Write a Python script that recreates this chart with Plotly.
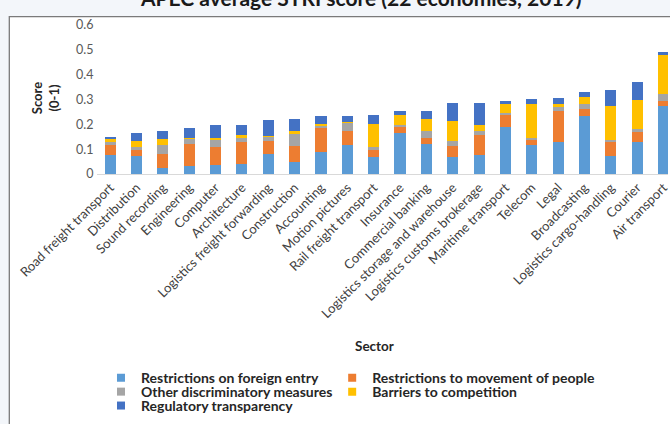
import plotly.graph_objects as go

# APEC average STRI score by sector, split into five policy areas
sectors = [
    "Road freight transport", "Distribution", "Sound recording", "Engineering",
    "Computer", "Architecture", "Logistics freight forwarding", "Construction",
    "Accounting", "Motion pictures", "Rail freight transport", "Insurance",
    "Commercial banking", "Logistics storage and warehouse",
    "Logistics customs brokerage", "Maritime transport", "Telecom", "Legal",
    "Broadcasting", "Logistics cargo-handling", "Courier", "Air transport",
]

foreign_entry = [0.078, 0.074, 0.025, 0.034, 0.038, 0.042, 0.082, 0.049, 0.087, 0.115, 0.069,
                 0.165, 0.119, 0.069, 0.077, 0.189, 0.115, 0.130, 0.234, 0.074, 0.127, 0.274]
movement_people = [0.039, 0.024, 0.057, 0.088, 0.069, 0.087, 0.052, 0.062, 0.098, 0.060, 0.026,
                   0.024, 0.026, 0.045, 0.081, 0.048, 0.020, 0.125, 0.028, 0.053, 0.042, 0.021]
other_discrim = [0.010, 0.011, 0.033, 0.019, 0.031, 0.019, 0.017, 0.051, 0.012, 0.031, 0.014,
                 0.009, 0.029, 0.017, 0.016, 0.010, 0.011, 0.015, 0.019, 0.011, 0.013, 0.027]
barriers_comp = [0.015, 0.022, 0.026, 0.005, 0.007, 0.008, 0.004, 0.012, 0.006, 0.004, 0.093,
                 0.039, 0.048, 0.082, 0.025, 0.034, 0.135, 0.011, 0.028, 0.137, 0.116, 0.156]
reg_transparency = [0.007, 0.034, 0.034, 0.039, 0.053, 0.043, 0.063, 0.047, 0.030, 0.023, 0.035,
                    0.016, 0.033, 0.072, 0.086, 0.014, 0.020, 0.024, 0.020, 0.063, 0.073, 0.013]

series_names = [
    "Restrictions on foreign entry",
    "Restrictions to movement of people",
    "Other discriminatory measures",
    "Barriers to competition",
    "Regulatory transparency",
]
series_values = [foreign_entry, movement_people, other_discrim, barriers_comp, reg_transparency]
series_colors = ["#5B9BD5", "#ED7D31", "#A5A5A5", "#FFC000", "#4472C4"]

y_ticks = [0, 0.1, 0.2, 0.3, 0.4, 0.5, 0.6]
y_tick_text = ["0", "0.1", "0.2", "0.3", "0.4", "0.5", "0.6"]

W, H = 670, 424
PL, PT, PH = 97, 24.5, 150          # plot-area left, top and height in pixels
PW = W - PL


def px_x(p):
    return (p - PL) / PW


def px_y(p):
    return (PT + PH - p) / PH


FONT = "Lato"

# legend slots: two columns, three rows (legend left x, row centre y), in pixels
legend_slots = [(101, 380), (333, 380), (101, 394), (333, 394), (101, 408)]
legend_ids = ["legend", "legend2", "legend3", "legend4", "legend5"]

fig = go.Figure()
for name, vals, col in zip(series_names, series_values, series_colors):
    fig.add_trace(go.Bar(
        x=sectors, y=vals, name=name, showlegend=False,
        marker=dict(color=col, line=dict(width=0)),
    ))

# small square legend keys, one legend box per entry
for name, col, lid in zip(series_names, series_colors, legend_ids):
    fig.add_trace(go.Scatter(
        x=[None], y=[None], mode="markers", name=name, legend=lid,
        marker=dict(symbol="square", size=8, color=col),
    ))

legend_style = dict(
    xanchor="left", yanchor="middle", bgcolor="rgba(0,0,0,0)", borderwidth=0,
    font=dict(family=FONT, size=14, color="#262626", weight="bold"),
)
legend_layout = {
    lid: dict(x=px_x(lx), y=px_y(ly), **legend_style)
    for lid, (lx, ly) in zip(legend_ids, legend_slots)
}

fig.update_layout(
    width=W, height=H,
    barmode="stack", bargap=0.58,
    paper_bgcolor="#f3f6fa", plot_bgcolor="white",
    margin=dict(l=PL, r=0, t=PT, b=H - PT - PH, pad=0),
    font=dict(family=FONT, color="#404040"),
    showlegend=True,
    xaxis=dict(
        range=[-0.5, 21.17], tickangle=-45, showline=True, linecolor="#d9d9d9",
        linewidth=1, ticks="", showgrid=False, zeroline=False,
        tickfont=dict(family=FONT, size=13, color="#404040"),
    ),
    yaxis=dict(
        range=[0, 0.6], tickvals=y_ticks, ticktext=y_tick_text,
        showgrid=False, zeroline=False, showline=False,
        ticks="outside", ticklen=0, tickcolor="rgba(0,0,0,0)",
        tickfont=dict(family=FONT, size=12.5, color="#595959"),
    ),
    shapes=[dict(
        type="rect", xref="paper", yref="paper", layer="below",
        x0=px_x(9), x1=px_x(W + 5), y0=px_y(H + 5), y1=px_y(16),
        fillcolor="white", line=dict(color="#7a7a7a", width=1.3),
    )],
    annotations=[
        dict(text="<b>APEC average STRI score (22 economies, 2019)</b>",
             xref="paper", yref="paper", x=px_x(362), y=px_y(-3.5),
             xanchor="center", yanchor="middle", showarrow=False,
             font=dict(family=FONT, size=21, color="#1a1a1a")),
        dict(text="<b>Score<br>(0-1)</b>", textangle=-90,
             xref="paper", yref="paper", x=px_x(45), y=px_y(98),
             xanchor="center", yanchor="middle", showarrow=False,
             font=dict(family=FONT, size=13, color="#262626")),
        dict(text="<b>Sector</b>",
             xref="paper", yref="paper", x=px_x(375), y=px_y(348),
             xanchor="center", yanchor="middle", showarrow=False,
             font=dict(family=FONT, size=13.5, color="#262626")),
    ],
    **legend_layout,
)

fig.write_html("out.html")
